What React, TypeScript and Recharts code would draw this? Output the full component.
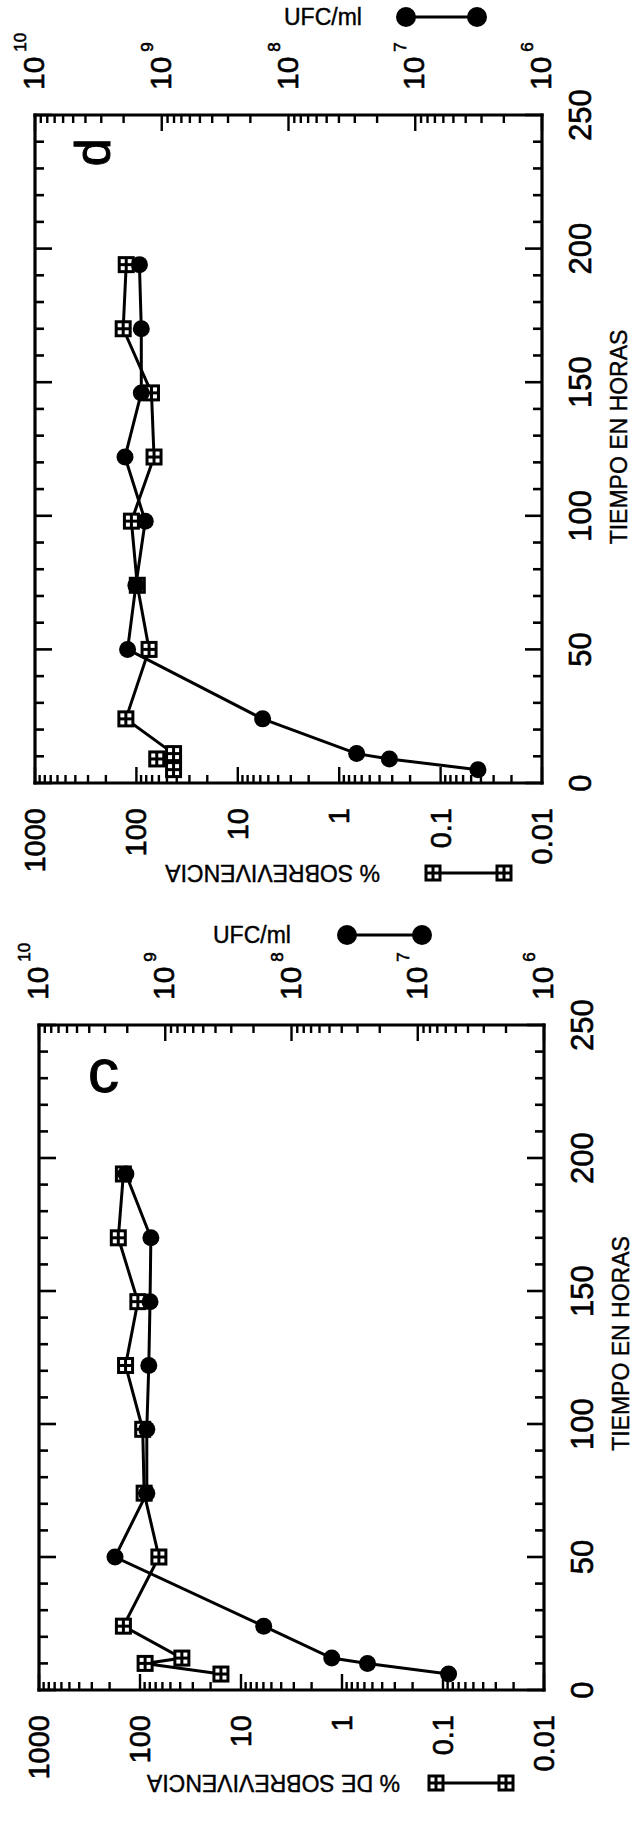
import React from 'react';
import { LineChart, Line, XAxis, YAxis, ReferenceDot } from 'recharts';

// panel c
const timeC = [6, 10, 12, 24, 50, 74, 98, 122, 146, 170, 194];
const ufcC = [5.7e6, 2.5e7, 4.8e7, 1.66e8, 2.5e9, 1.4e9, 1.4e9, 1.35e9, 1.32e9, 1.3e9, 2.05e9];
const pctC = [15.8, 89, 38.5, 146, 65, 91, 94, 139, 105, 164, 146];

// panel d
const timeD = [5, 9, 11, 24, 50, 74, 98, 122, 146, 170, 194];
const ufcD = [3.2e6, 1.6e7, 2.9e7, 1.6e8, 1.86e9, 1.6e9, 1.35e9, 1.95e9, 1.45e9, 1.45e9, 1.5e9];
const pctD = [43, 63, 43, 127, 75, 98, 112, 67, 71, 135, 126];

// axes
const timeMajor = [0, 50, 100, 150, 200, 250];
const pctMajor = [0.01, 0.1, 1, 10, 100, 1000];
const pctLabels = ['0.01', '0.1', '1', '10', '100', '1000'];
const ufcMajor = [1e6, 1e7, 1e8, 1e9, 1e10];
const ufcExp = ['6', '7', '8', '9', '10'];

const FONT = '"Liberation Sans", Arial, Helvetica, sans-serif';
const INK = '#000';
// scanned print: glyphs a little heavier than the regular face
const heavy = { stroke: INK, strokeWidth: 0.6 };

const timeTicks: number[] = [];
for (let t = 0; t <= 250; t += 10) timeTicks.push(t);

const logTicks = (majors: number[]) => {
  const out: number[] = [];
  majors.forEach((m, i) => {
    out.push(m);
    if (i < majors.length - 1) for (let k = 2; k <= 9; k++) out.push(m * k);
  });
  return out;
};
const pctTicks = logTicks(pctMajor);
const ufcTicks = logTicks(ufcMajor);
const majorIndex = (list: number[], v: number) => list.findIndex((m) => Math.abs(m - v) / m < 1e-6);

// markers
const drawCircle = (cx: number, cy: number, key?: string) => <circle key={key} cx={cx} cy={cy} r={8.5} fill={INK} />;
const drawBox = (cx: number, cy: number, key?: string) => {
  const s = 17;
  return (
    <g key={key}>
      <rect x={cx - s / 2} y={cy - s / 2} width={s} height={s} fill={INK} />
      <rect x={cx - 5.5} y={cy - 5.5} width={4} height={4} fill="#fff" />
      <rect x={cx + 1.5} y={cy - 5.5} width={4} height={4} fill="#fff" />
      <rect x={cx - 5.5} y={cy + 1.5} width={4} height={4} fill="#fff" />
      <rect x={cx + 1.5} y={cy + 1.5} width={4} height={4} fill="#fff" />
    </g>
  );
};
const circleDot = (p: any) => (p.cx == null ? <g key={`c${p.index}`} /> : drawCircle(p.cx, p.cy, `c${p.index}`));
const boxDot = (p: any) => (p.cx == null ? <g key={`b${p.index}`} /> : drawBox(p.cx, p.cy, `b${p.index}`));

// ticks (all drawn inward)
const isTimeMajor = (v: number) => timeMajor.includes(v);
const BottomTick = (p: any) => {
  const major = isTimeMajor(p.payload.value);
  return (
    <g>
      <line x1={p.x} x2={p.x} y1={p.y} y2={p.y - (major ? 17 : 9)} stroke={INK} strokeWidth={2.6} />
      {major && (
        <text x={p.x} y={p.y + 49} textAnchor="middle" fontSize={31} fontFamily={FONT} fill={INK} {...heavy}>
          {p.payload.value}
        </text>
      )}
    </g>
  );
};
const TopTick = (p: any) => {
  const major = isTimeMajor(p.payload.value);
  return <line x1={p.x} x2={p.x} y1={p.y} y2={p.y + (major ? 17 : 9)} stroke={INK} strokeWidth={2.6} />;
};
const PctTick = (p: any) => {
  const i = majorIndex(pctMajor, p.payload.value);
  return (
    <g>
      <line x1={p.x} x2={p.x + (i >= 0 ? 16 : 8)} y1={p.y} y2={p.y} stroke={INK} strokeWidth={2.4} />
      {i >= 0 && (
        <text x={p.x - 25} y={p.y + 10} textAnchor="end" fontSize={29} fontFamily={FONT} fill={INK} {...heavy}>
          {pctLabels[i]}
        </text>
      )}
    </g>
  );
};
const UfcTick = (p: any) => {
  const i = majorIndex(ufcMajor, p.payload.value);
  return (
    <g>
      <line x1={p.x} x2={p.x - (i >= 0 ? 16 : 8)} y1={p.y} y2={p.y} stroke={INK} strokeWidth={2.4} />
      {i >= 0 && (
        <text x={p.x + 25} y={p.y + 9} fontSize={30} fontFamily={FONT} fill={INK} {...heavy}>
          10
          <tspan dx={5} dy={-18} fontSize={17}>
            {ufcExp[i]}
          </tspan>
        </text>
      )}
    </g>
  );
};

type PanelCfg = {
  letter: string;
  letterUpright: boolean;
  letterSize: number;
  letterAt: { t: number; pct: number };
  time: number[];
  ufc: number[];
  pct: number[];
  pctTitle: string;
  margin: { top: number; right: number; bottom: number; left: number };
  timeTitleShift: number;
  leftTitleGap: number;
  leftTextStart: number;
  leftSquares: [number, number];
  rightTitleGap: number;
  rightTextStart: number;
  rightCircles: [number, number];
};

const axisLine = { stroke: INK, strokeWidth: 3.2, strokeLinecap: 'square' as const };

const Panel = ({ cfg }: { cfg: PanelCfg }) => {
  const rows = cfg.time.map((t, i) => ({ t, ufc: cfg.ufc[i], pct: cfg.pct[i] }));

  const timeTitle = (props: any) => {
    const vb = props.viewBox;
    return (
      <text
        x={vb.x + vb.width / 2 + cfg.timeTitleShift}
        y={vb.y + 85}
        textAnchor="middle"
        fontSize={23}
        fontFamily={FONT}
        fill={INK}
        {...heavy}
        strokeWidth={0.4}
      >
        TIEMPO EN HORAS
      </text>
    );
  };
  const pctTitle = (props: any) => {
    const vb = props.viewBox;
    const cx = vb.x + vb.width - cfg.leftTitleGap;
    const [a, b] = cfg.leftSquares;
    return (
      <g>
        <text
          transform={`translate(${cx + 8},${cfg.leftTextStart}) rotate(-90)`}
          fontSize={23}
          fontFamily={FONT}
          fill={INK}
          {...heavy}
          strokeWidth={0.4}
        >
          {cfg.pctTitle}
        </text>
        <line x1={cx} x2={cx} y1={a} y2={b} stroke={INK} strokeWidth={2.8} />
        {drawBox(cx, a)}
        {drawBox(cx, b)}
      </g>
    );
  };
  const ufcTitle = (props: any) => {
    const vb = props.viewBox;
    const cx = vb.x + cfg.rightTitleGap;
    const [a, b] = cfg.rightCircles;
    return (
      <g>
        <text
          transform={`translate(${cx - 8},${cfg.rightTextStart}) rotate(90)`}
          fontSize={23}
          fontFamily={FONT}
          fill={INK}
          {...heavy}
          strokeWidth={0.4}
        >
          UFC/ml
        </text>
        <line x1={cx} x2={cx} y1={a} y2={b} stroke={INK} strokeWidth={2.8} />
        <circle cx={cx} cy={a} r={10} fill={INK} />
        <circle cx={cx} cy={b} r={10} fill={INK} />
      </g>
    );
  };
  const letterShape = (p: any) => (
    <text
      x={p.cx}
      y={p.cy}
      textAnchor="middle"
      dominantBaseline="central"
      fontSize={cfg.letterSize}
      fontFamily={FONT}
      fill={INK}
      {...heavy}
      strokeWidth={1}
      transform={cfg.letterUpright ? `rotate(90,${p.cx},${p.cy})` : undefined}
    >
      {cfg.letter}
    </text>
  );

  return (
    <LineChart width={922} height={634} data={rows} margin={cfg.margin}>
      <XAxis
        xAxisId="b"
        dataKey="t"
        type="number"
        domain={[0, 250]}
        allowDataOverflow
        ticks={timeTicks}
        interval={0}
        tick={BottomTick}
        tickLine={false}
        tickSize={0}
        tickMargin={0}
        axisLine={axisLine}
        height={60}
        label={timeTitle}
      />
      <XAxis
        xAxisId="top"
        orientation="top"
        dataKey="t"
        type="number"
        domain={[0, 250]}
        allowDataOverflow
        ticks={timeTicks}
        interval={0}
        tick={TopTick}
        tickLine={false}
        tickSize={0}
        tickMargin={0}
        axisLine={axisLine}
        height={1}
      />
      <YAxis
        yAxisId="pct"
        type="number"
        scale="log"
        domain={[0.01, 1000]}
        allowDataOverflow
        ticks={pctTicks}
        interval={0}
        tick={PctTick}
        tickLine={false}
        tickSize={0}
        tickMargin={0}
        axisLine={axisLine}
        width={60}
        label={pctTitle}
      />
      <YAxis
        yAxisId="ufc"
        orientation="right"
        type="number"
        scale="log"
        domain={[1e6, 1e10]}
        allowDataOverflow
        ticks={ufcTicks}
        interval={0}
        tick={UfcTick}
        tickLine={false}
        tickSize={0}
        tickMargin={0}
        axisLine={axisLine}
        width={60}
        label={ufcTitle}
      />
      <Line
        xAxisId="b"
        yAxisId="pct"
        type="linear"
        dataKey="pct"
        stroke={INK}
        strokeWidth={3}
        dot={boxDot}
        activeDot={false}
        isAnimationActive={false}
      />
      <Line
        xAxisId="b"
        yAxisId="ufc"
        type="linear"
        dataKey="ufc"
        stroke={INK}
        strokeWidth={3}
        dot={circleDot}
        activeDot={false}
        isAnimationActive={false}
      />
      <ReferenceDot xAxisId="b" yAxisId="pct" x={cfg.letterAt.t} y={cfg.letterAt.pct} r={0} shape={letterShape} />
    </LineChart>
  );
};

const panelC: PanelCfg = {
  letter: 'c',
  letterUpright: true,
  letterSize: 62,
  letterAt: { t: 233, pct: 230 },
  time: timeC,
  ufc: ufcC,
  pct: pctC,
  pctTitle: '% DE SOBREVIVENCIA',
  margin: { top: 38, right: 43, bottom: 30, left: 94 },
  timeTitleShift: 14,
  leftTitleGap: 93,
  leftTextStart: 400,
  leftSquares: [506, 436],
  rightTitleGap: 90,
  rightTextStart: 213,
  rightCircles: [347, 422],
};

const panelD: PanelCfg = {
  letter: 'd',
  letterUpright: false,
  letterSize: 50,
  letterAt: { t: 236, pct: 270 },
  time: timeD,
  ufc: ufcD,
  pct: pctD,
  pctTitle: '% SOBREVIVENCIA',
  margin: { top: 34, right: 55, bottom: 32, left: 79 },
  timeTitleShift: 12,
  leftTitleGap: 90,
  leftTextStart: 380,
  leftSquares: [504, 433],
  rightTitleGap: 98,
  rightTextStart: 284,
  rightCircles: [406, 477],
};

export default function App() {
  return (
    <div style={{ position: 'absolute', left: 0, top: 0, width: 634, height: 1844, overflow: 'hidden', background: '#fff' }}>
      <div
        style={{
          position: 'absolute',
          left: 0,
          top: 0,
          width: 1844,
          height: 634,
          transformOrigin: '0 0',
          transform: 'translateY(1844px) rotate(-90deg)',
        }}
      >
        <div style={{ position: 'absolute', left: 0, top: 0 }}>
          <Panel cfg={panelC} />
        </div>
        <div style={{ position: 'absolute', left: 922, top: 0 }}>
          <Panel cfg={panelD} />
        </div>
      </div>
    </div>
  );
}
